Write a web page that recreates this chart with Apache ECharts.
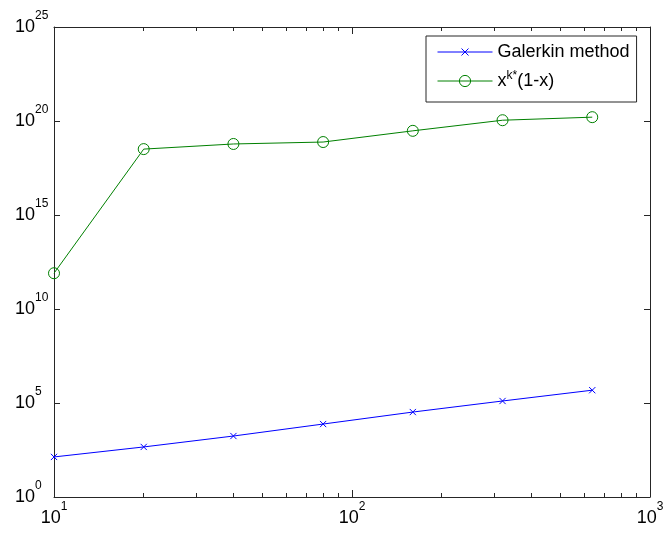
<!DOCTYPE html>
<html>
<head>
<meta charset="utf-8">
<script src="https://cdn.jsdelivr.net/npm/echarts@6/dist/echarts.min.js"></script>
<style>
html,body{margin:0;padding:0;background:#fff;}
#chart{width:668px;height:535px;}
</style>
</head>
<body>
<div id="chart"></div>
<script>
// ---- data ----
var nValues = [10, 20, 40, 80, 160, 320, 640];
var galerkinValues = [135, 460, 1750, 7600, 33000, 128000, 480000];
var polyValues = [8.0e11, 3.2e18, 6.0e18, 7.6e18, 3.0e19, 1.1e20, 1.6e20];
var seriesNames = ['Galerkin method', 'x^k*(1-x)'];
var xMajorTicks = [10, 100, 1000];
var xMinorTicks = [20, 30, 40, 50, 60, 70, 80, 90, 200, 300, 400, 500, 600, 700, 800, 900];
var yMajorTicks = [1, 1e5, 1e10, 1e15, 1e20, 1e25];

var FONT = 'Liberation Sans, Arial, sans-serif';
function expLabel(v) {
  var e = Math.round(Math.log10(v));
  return '{b|10}{s|' + e + '}';
}
var richLbl = {
  b: {fontSize: 18, lineHeight: 34, fontFamily: FONT, color: '#000'},
  s: {fontSize: 12, fontFamily: FONT, color: '#000', verticalAlign: 'top'}
};
var boxLine = {show: true, lineStyle: {color: '#262626', width: 1}};
var xMarker = 'path://M-3,-3M0,0L10,10M10,0L0,10M13,13';

var chart = echarts.init(document.getElementById('chart'), null, {renderer: 'canvas'});
var option = {
  backgroundColor: '#ffffff',
  animation: false,
  grid: {left: 54, right: 18, top: 27, bottom: 38, containLabel: false, outerBoundsMode: 'none'},
  legend: {
    orient: 'vertical',
    left: 426, top: 36,
    padding: [7, 7, 12, 11],
    itemWidth: 55, itemHeight: 14, itemGap: 9,
    borderColor: '#262626', borderWidth: 1,
    backgroundColor: '#fff',
    lineStyle: {width: 1},
    itemStyle: {borderWidth: 1},
    textStyle: {fontSize: 18, fontFamily: FONT, color: '#000',
      rich: {sup: {fontSize: 12, fontFamily: FONT, color: '#000', verticalAlign: 'top'},
             n: {fontSize: 18, lineHeight: 22, fontFamily: FONT, color: '#000'}}},
    formatter: function (name) {
      if (name === seriesNames[1]) return '{n|x}{sup|k*}{n|(1-x)}';
      return name;
    },
    data: seriesNames
  },
  xAxis: [
    {type: 'log', logBase: 10, min: 10, max: 1000, position: 'bottom', gridIndex: 0,
     axisLine: boxLine, splitLine: {show: false},
     axisTick: {show: true, inside: true, length: 7, lineStyle: {color: '#262626'}, customValues: xMajorTicks},
     axisLabel: {show: true, formatter: expLabel, rich: richLbl, margin: 4, customValues: xMajorTicks}},
    {type: 'log', logBase: 10, min: 10, max: 1000, position: 'bottom', gridIndex: 0,
     axisLine: {show: false}, splitLine: {show: false}, axisLabel: {show: false},
     axisTick: {show: true, inside: true, length: 4, lineStyle: {color: '#262626'}, customValues: xMinorTicks}},
    {type: 'log', logBase: 10, min: 10, max: 1000, position: 'top', gridIndex: 0,
     axisLine: boxLine, splitLine: {show: false}, axisLabel: {show: false},
     axisTick: {show: true, inside: true, length: 7, lineStyle: {color: '#262626'}, customValues: xMajorTicks}},
    {type: 'log', logBase: 10, min: 10, max: 1000, position: 'top', gridIndex: 0,
     axisLine: {show: false}, splitLine: {show: false}, axisLabel: {show: false},
     axisTick: {show: true, inside: true, length: 4, lineStyle: {color: '#262626'}, customValues: xMinorTicks}}
  ],
  yAxis: [
    {type: 'log', logBase: 10, min: 1, max: 1e25, position: 'left', gridIndex: 0,
     axisLine: boxLine, splitLine: {show: false},
     axisTick: {show: true, inside: true, length: 6, lineStyle: {color: '#262626'}, customValues: yMajorTicks},
     axisLabel: {show: true, formatter: expLabel, rich: richLbl, align: 'left', margin: 39, customValues: yMajorTicks}},
    {type: 'log', logBase: 10, min: 1, max: 1e25, position: 'right', gridIndex: 0,
     axisLine: boxLine, splitLine: {show: false}, axisLabel: {show: false},
     axisTick: {show: true, inside: true, length: 6, lineStyle: {color: '#262626'}, customValues: yMajorTicks}}
  ],
  series: [
    {name: seriesNames[0], type: 'line', xAxisIndex: 0, yAxisIndex: 0,
     data: nValues.map(function (x, i) { return [x, galerkinValues[i]]; }),
     symbol: xMarker, symbolSize: 10,
     itemStyle: {color: '#0000ff', borderColor: '#0000ff', borderWidth: 1},
     lineStyle: {color: '#0000ff', width: 1}},
    {name: seriesNames[1], type: 'line', xAxisIndex: 0, yAxisIndex: 0,
     data: nValues.map(function (x, i) { return [x, polyValues[i]]; }),
     symbol: 'circle', symbolSize: 11,
     itemStyle: {color: 'rgba(0,0,0,0)', borderColor: '#008000', borderWidth: 1},
     lineStyle: {color: '#008000', width: 1}}
  ]
};
chart.setOption(option);
</script>
</body>
</html>
